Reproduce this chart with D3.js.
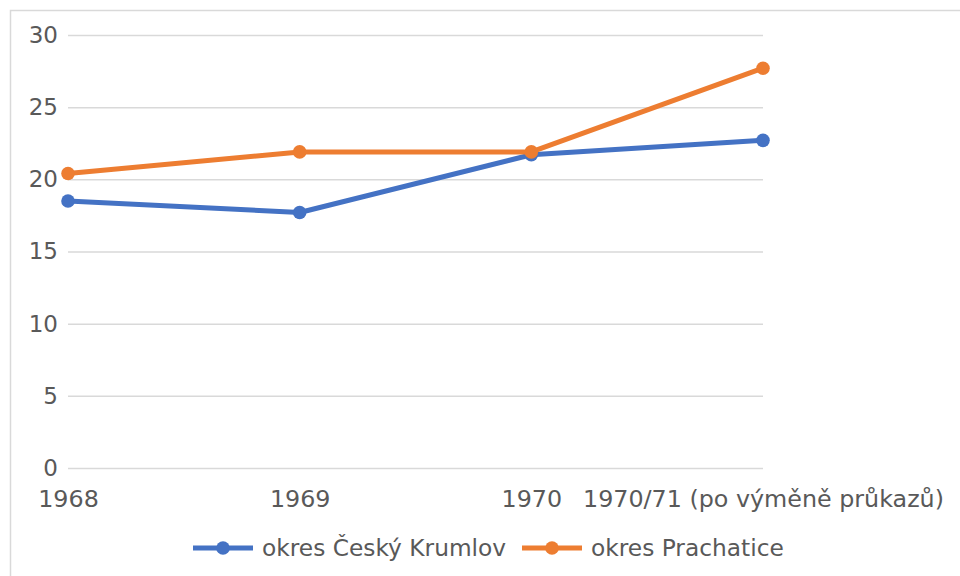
<!DOCTYPE html>
<html><head><meta charset="utf-8">
<script src="https://cdn.jsdelivr.net/npm/d3@7"></script>
<style>body{margin:0;background:#fff;}svg{display:block;font-family:"DejaVu Sans",sans-serif;}</style>
</head><body>
<svg id="c" width="960" height="576"></svg>
<script>
const categories = ["1968", "1969", "1970", "1970/71 (po výměně průkazů)"];
const seriesNames = ["okres Český Krumlov", "okres Prachatice"];
const krumlov = [18.5, 17.7, 21.7, 22.7];
const prachatice = [20.4, 21.9, 21.9, 27.7];
const yTicks = [0, 5, 10, 15, 20, 25, 30];
const colors = ["#4472C4", "#ED7D31"];

const svg = d3.select("#c");
const fs = 23.8;
svg.append("rect").attr("x", 10.5).attr("y", 10.5).attr("width", 960).attr("height", 600)
  .attr("fill", "none").attr("stroke", "#D9D9D9").attr("stroke-width", 1.5);

const x = d3.scalePoint().domain(categories).range([68, 763]).padding(0);
const y = d3.scaleLinear().domain([0, 30]).range([468, 35]);

const gy = svg.append("g").attr("transform", "translate(68,0)")
  .call(d3.axisLeft(y).tickValues(yTicks).tickSize(-(763 - 68)).tickPadding(10));
gy.select(".domain").remove();
gy.selectAll(".tick line").attr("stroke", "#D9D9D9").attr("stroke-width", 1.5);
gy.selectAll(".tick text").attr("fill", "#595959").style("font-size", "23px").style("font-family", "DejaVu Sans");

const gx = svg.append("g").attr("transform", "translate(0,468)")
  .call(d3.axisBottom(x).tickSize(0).tickPadding(22));
gx.select(".domain").remove();
gx.selectAll(".tick text").attr("fill", "#595959").style("font-size", fs + "px").style("font-family", "DejaVu Sans");

const data = [krumlov, prachatice];
const line = d3.line().x((d, i) => x(categories[i])).y(d => y(d));
data.forEach((vals, s) => {
  svg.append("path").datum(vals).attr("d", line).attr("fill", "none")
    .attr("stroke", colors[s]).attr("stroke-width", 5).attr("stroke-linejoin", "round").attr("stroke-linecap", "round");
  svg.selectAll(null).data(vals).enter().append("circle")
    .attr("cx", (d, i) => x(categories[i])).attr("cy", d => y(d)).attr("r", 6.8).attr("fill", colors[s]);
});

// legend
const lx = [193, 522];
seriesNames.forEach((n, s) => {
  const g = svg.append("g").attr("transform", `translate(${lx[s]},548)`);
  g.append("line").attr("x1", 0).attr("x2", 60).attr("stroke", colors[s]).attr("stroke-width", 5);
  g.append("circle").attr("cx", 30).attr("r", 6.8).attr("fill", colors[s]);
  g.append("text").attr("x", 69).attr("dy", "0.35em").attr("fill", "#595959")
    .style("font-size", "23.3px").text(n);
});
</script>
</body></html>
